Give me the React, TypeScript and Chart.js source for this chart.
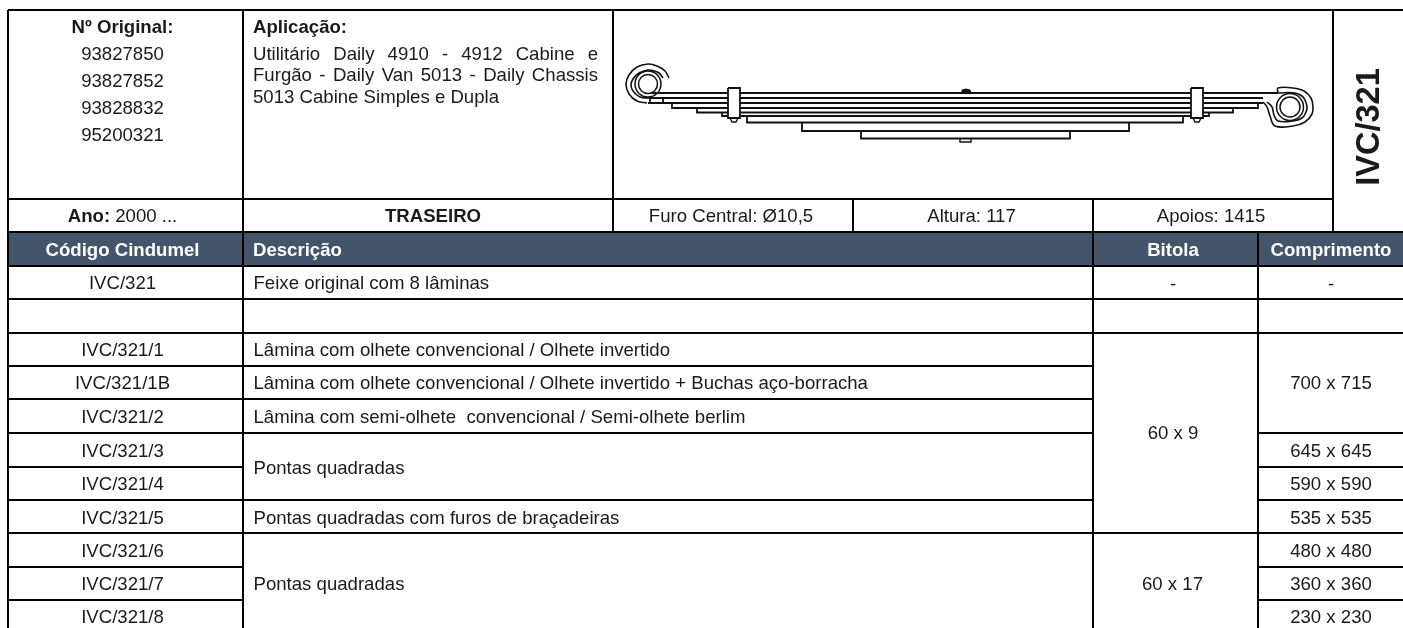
import React, { useEffect, useRef } from "react";
import { Chart, registerables } from "chart.js";

Chart.register(...registerables);

type P = { x: number; y: number };
const pts = (a: number[][]): P[] => a.map(([x, y]) => ({ x, y }));

const partNumbers = ["93827850", "93827852", "93828832", "95200321"];
const applicationLines = ["Utilitário Daily 4910 - 4912 Cabine e", "Furgão - Daily Van 5013 - Daily Chassis"];
const applicationLast = "5013 Cabine Simples e Dupla";
const codes = ["IVC/321", "IVC/321/1", "IVC/321/1B", "IVC/321/2", "IVC/321/3", "IVC/321/4", "IVC/321/5", "IVC/321/6", "IVC/321/7", "IVC/321/8"];
const codeRows = [283, 350, 383, 417, 451, 484, 518, 551, 584, 617];
const headers = ["Código Cindumel", "Descrição", "Bitola", "Comprimento"];
const lengths = ["645 x 645", "590 x 590", "535 x 535", "480 x 480", "360 x 360", "230 x 230"];
const lengthRows = [451, 484, 518, 551, 584, 617];

// table rules: [x0, x1, y]
const hRules = [
  [8, 1403, 10], [8, 1333, 199], [8, 1403, 232], [8, 1403, 266], [8, 1403, 299], [8, 1403, 333],
  [8, 1093, 366], [8, 1093, 399], [8, 1093, 433], [1258, 1403, 433], [8, 243, 467], [1258, 1403, 467],
  [8, 1093, 500], [1258, 1403, 500], [8, 1403, 533], [8, 243, 567], [1258, 1403, 567], [8, 243, 600], [1258, 1403, 600],
];
// [x, y0, y1]
const vRules = [
  [8, 10, 628], [243, 10, 628], [613, 10, 232], [853, 199, 232], [1093, 199, 628], [1333, 10, 232], [1258, 232, 628],
];

const leafOutlines = [
  [[651, 93], [1278, 93]],
  [[650, 98], [1263, 98]],
  [[648, 103], [1263, 103]],
  [[672, 103], [672, 108], [1258, 108], [1258, 103]],
  [[697, 108], [697, 112.5], [1233, 112.5], [1233, 108]],
  [[722, 112.5], [722, 116], [1209, 116], [1209, 112.5]],
  [[747, 116], [747, 122.5], [1183, 122.5], [1183, 116]],
  [[802, 122.5], [802, 131], [1129, 131], [1129, 122.5]],
  [[861, 131], [861, 138.5], [1070, 138.5], [1070, 131]],
  [[650, 98], [650, 103]],
  [[663, 98], [663, 103]],
];
const eyeArcs = [
  [[669, 78], [665, 71], [657, 66], [648, 64], [637, 67], [629, 75], [626, 84], [629, 94], [637, 101], [647, 103]],
  [[663, 78], [659, 73], [654, 71], [648, 70], [639, 73], [633, 79], [631, 85], [633, 91], [640, 97], [650, 98]],
  [[1263, 102], [1267, 107], [1270, 116], [1275, 126], [1293, 126], [1305, 122], [1312, 114], [1313, 107], [1311, 98], [1304, 91], [1293, 88], [1278, 88], [1278, 93]],
  [[1267, 102], [1272, 107], [1274, 115], [1278, 121], [1293, 121], [1302, 118], [1306, 112], [1307, 107], [1305, 100], [1302, 96], [1295, 93], [1278, 93]],
];
const eyeCircles = [
  [648, 84, 9.5],
  [648, 84, 13],
  [1290, 107, 10],
  [1290, 107, 13.5],
];
const clips = [
  [[728, 88], [740, 88], [740, 118], [728, 118], [728, 88]],
  [[1191, 88], [1203, 88], [1203, 118], [1191, 118], [1191, 88]],
];
const studs = [
  [[730, 118], [732, 122], [736, 122], [738, 118]],
  [[1193, 118], [1195, 122], [1199, 122], [1201, 118]],
  [[960, 138.5], [960, 142], [971, 142], [971, 138.5]],
];
const bolt = [[961, 93], [962, 90], [966, 89], [970, 90], [971, 93], [961, 93]];

function buildDatasets() {
  const out: any[] = [];
  const add = (d: any) => out.push({ pointRadius: 0, showLine: true, borderColor: "#000", tension: 0, clip: false, ...d });
  add({ data: pts([[8, 249], [1403, 249]]), borderColor: "#44546a", borderWidth: 33 });
  hRules.forEach(([a, b, y]) => add({ data: pts([[a, y], [b, y]]), borderWidth: 2 }));
  vRules.forEach(([x, a, b]) => add({ data: pts([[x, a], [x, b]]), borderWidth: 2 }));
  leafOutlines.forEach((l) => add({ data: pts(l), borderWidth: 1.8, borderColor: "#111" }));
  eyeArcs.forEach((l) => add({ data: pts(l), borderWidth: 1.6, tension: 0.4, borderColor: "#111" }));
  eyeCircles.forEach(([x, y, r]) =>
    add({ data: [{ x, y }], showLine: false, pointRadius: r, pointBackgroundColor: "transparent", pointBorderColor: "#111", pointBorderWidth: 1.5 })
  );
  clips.forEach((l) => add({ data: pts(l), borderWidth: 1.8, borderColor: "#111", backgroundColor: "#fff", fill: "shape" }));
  studs.forEach((l) => add({ data: pts(l), borderWidth: 1.4, borderColor: "#111" }));
  add({ data: pts(bolt), borderWidth: 1, borderColor: "#111", backgroundColor: "#111", fill: "shape" });
  return out.map((d, i) => ({ ...d, order: out.length - i }));
}

const sans = '"Liberation Sans", Arial, sans-serif';
const SIZE = 18.6;

const textPlugin = {
  id: "tableText",
  afterDatasetsDraw(chart: any) {
    const { ctx, scales } = chart;
    const X = (v: number) => scales.x.getPixelForValue(v);
    const Y = (v: number) => scales.y.getPixelForValue(v);
    const text = (s: string, x: number, y: number, o: any = {}) => {
      ctx.font = `${o.bold ? "bold " : ""}${o.size ?? SIZE}px ${sans}`;
      ctx.fillStyle = o.color ?? "#1a1a1a";
      ctx.textAlign = o.align ?? "center";
      ctx.textBaseline = "middle";
      ctx.fillText(s, X(x), Y(y + 1));
    };
    ctx.save();
    text("Nº Original:", 122.5, 27, { bold: true });
    partNumbers.forEach((s, i) => text(s, 122.5, 53.5 + i * 27));
    text("Aplicação:", 253, 27, { bold: true, align: "left" });
    applicationLines.forEach((line, i) => {
      const words = line.split(" ");
      const left = 253, right = 598;
      ctx.font = `${SIZE}px ${sans}`;
      const total = words.reduce((t, w) => t + ctx.measureText(w).width, 0);
      const gap = (right - left - total) / (words.length - 1);
      let cx = left;
      words.forEach((w) => {
        text(w, cx, 53.5 + i * 21.7, { align: "left" });
        ctx.font = `${SIZE}px ${sans}`;
        cx += ctx.measureText(w).width + gap;
      });
    });
    text(applicationLast, 253, 97, { align: "left" });

    ctx.save();
    ctx.translate(X(1370), Y(127));
    ctx.rotate(-Math.PI / 2);
    ctx.font = `bold 32.5px ${sans}`;
    ctx.fillStyle = "#1a1a1a";
    ctx.textAlign = "center";
    ctx.textBaseline = "middle";
    ctx.fillText("IVC/321", 0, 0);
    ctx.restore();

    const y = 216;
    ctx.font = `bold ${SIZE}px ${sans}`;
    const aw = ctx.measureText("Ano:").width;
    ctx.font = `${SIZE}px ${sans}`;
    const bw = ctx.measureText(" 2000 ...").width;
    const ax = 122.5 - (aw + bw) / 2;
    text("Ano:", ax, y, { bold: true, align: "left" });
    text(" 2000 ...", ax + aw, y, { align: "left" });
    text("TRASEIRO", 433, y, { bold: true });
    text("Furo Central: Ø10,5", 731, y);
    text("Altura: 117", 971.5, y);
    text("Apoios: 1415", 1211, y);

    text(headers[0], 122.5, 250, { bold: true, color: "#fff" });
    text(headers[1], 253, 250, { bold: true, color: "#fff", align: "left" });
    text(headers[2], 1173, 250, { bold: true, color: "#fff" });
    text(headers[3], 1331, 250, { bold: true, color: "#fff" });

    codes.forEach((c, i) => text(c, 122.5, codeRows[i]));
    const d = (s: string, yy: number) => text(s, 253.5, yy, { align: "left" });
    d("Feixe original com 8 lâminas", 283);
    d("Lâmina com olhete convencional / Olhete invertido", 350);
    d("Lâmina com olhete convencional / Olhete invertido + Buchas aço-borracha", 383);
    d("Lâmina com semi-olhete  convencional / Semi-olhete berlim", 417);
    d("Pontas quadradas", 467.5);
    d("Pontas quadradas com furos de braçadeiras", 517.5);
    d("Pontas quadradas", 583.5);
    text("-", 1173, 283.5);
    text("-", 1331, 283.5);
    text("60 x 9", 1173, 433);
    text("60 x 17", 1172.5, 583.5);
    text("700 x 715", 1331, 383);
    lengths.forEach((s, i) => text(s, 1331, lengthRows[i]));
    ctx.restore();
  },
};

export default function App() {
  const ref = useRef<HTMLCanvasElement>(null);
  useEffect(() => {
    document.body.style.margin = "0";
    const chart = new Chart(ref.current!, {
      type: "scatter",
      data: { datasets: buildDatasets() },
      options: {
        animation: false,
        responsive: false,
        layout: { padding: 0, autoPadding: false },
        plugins: { legend: { display: false }, tooltip: { enabled: false }, title: { display: false } },
        scales: {
          x: { type: "linear", min: 0, max: 1403, display: false },
          y: { type: "linear", min: 0, max: 628, reverse: true, display: false },
        },
      },
      plugins: [textPlugin],
    } as any);
    return () => chart.destroy();
  }, []);
  return <canvas ref={ref} width={1403} height={628} style={{ display: "block", background: "#fff" }} />;
}
